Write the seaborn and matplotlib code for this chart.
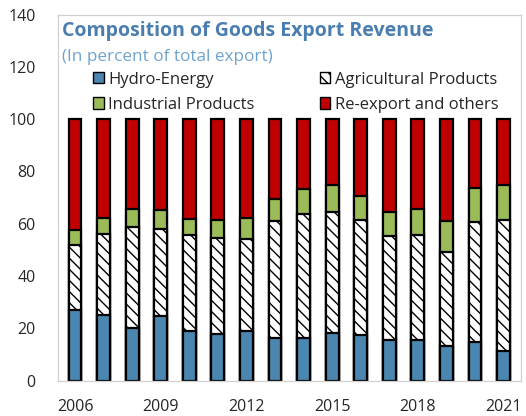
"""
Composition of goods export revenue - stacked bars, 2006-2021.
"""

import numpy as np
import pandas as pd
import matplotlib
matplotlib.use("Agg")
import matplotlib.pyplot as plt
from matplotlib.patches import Patch
import seaborn as sns

sns.set_style("white")
plt.rcParams["font.family"] = ["Open Sans", "DejaVu Sans"]
plt.rcParams["hatch.linewidth"] = 1.0

years = [str(y) for y in range(2006, 2022)]
hydro = [27.2, 25.0, 20.0, 24.6, 18.8, 18.0, 18.8, 16.2,
         16.2, 18.4, 17.5, 15.4, 15.4, 13.3, 14.9, 11.2]
agri = [24.6, 31.1, 38.6, 33.3, 36.9, 36.4, 35.2, 44.8,
        47.4, 46.0, 44.0, 39.9, 40.3, 36.0, 45.8, 50.3]
industrial = [5.8, 6.2, 7.2, 7.4, 6.2, 7.0, 8.2, 8.3,
              9.6, 10.4, 9.1, 9.1, 9.9, 11.7, 12.9, 13.3]
reexport = [100 - h - a - i for h, a, i in zip(hydro, agri, industrial)]

df = pd.DataFrame({"year": years, "hydro": hydro, "agri": agri,
                   "industrial": industrial, "reexport": reexport})
# cumulative tops, drawn back to front so each layer covers the one above
df["top_hydro"] = df["hydro"]
df["top_agri"] = df["top_hydro"] + df["agri"]
df["top_ind"] = df["top_agri"] + df["industrial"]
df["top_re"] = df["top_ind"] + df["reexport"]

c_hydro = "#4A86AF"
c_ind = "#9BBB59"
c_re = "#C00000"
hatch = "\\\\\\"

fig, ax = plt.subplots(figsize=(5.26, 4.16), dpi=100)
bw = 0.45
kw = dict(width=bw, edgecolor="black", linewidth=1.6, ax=ax, order=years)
sns.barplot(data=df, x="year", y="top_re", color=c_re, saturation=1, **kw)
sns.barplot(data=df, x="year", y="top_ind", color=c_ind, saturation=1, **kw)
sns.barplot(data=df, x="year", y="top_agri", color="white", saturation=1,
            hatch=hatch, **kw)
sns.barplot(data=df, x="year", y="top_hydro", color=c_hydro, saturation=1, **kw)

ax.set_ylim(0, 140)
ax.set_yticks(np.arange(0, 141, 20))
ax.set_xlim(-0.6, len(years) - 0.4)
ax.set_xticks(range(0, len(years), 3))
ax.set_xticklabels(years[::3])
ax.set_xticks(np.arange(0.5, len(years) - 1, 1), minor=True)
ax.tick_params(axis="x", which="major", length=0, pad=13, labelsize=11.5)
ax.tick_params(axis="x", which="minor", length=4, direction="in",
               color="#BFBFBF", width=0.8)
ax.tick_params(axis="y", which="major", length=4, direction="out",
               color="#BFBFBF", width=0.8, labelsize=11.5, pad=12)
ax.set_xlabel("")
ax.set_ylabel("")
for s in ax.spines.values():
    s.set_color("#D0D0D0")
    s.set_linewidth(0.9)

ax.text(0.008, 0.955, "Composition of Goods Export Revenue", transform=ax.transAxes,
        fontsize=14, fontweight="bold", color="#4A7EB0", va="center")
ax.text(0.008, 0.885, "(In percent of total export)", transform=ax.transAxes,
        fontsize=12.3, color="#6FA3CF", va="center")

handles = [Patch(facecolor=c_hydro, edgecolor="black", label="Hydro-Energy"),
           Patch(facecolor=c_ind, edgecolor="black", label="Industrial Products"),
           Patch(facecolor="white", edgecolor="black", hatch=hatch,
                 label="Agricultural Products"),
           Patch(facecolor=c_re, edgecolor="black", label="Re-export and others")]
ax.legend(handles=handles, ncol=2, frameon=False, loc="upper left",
          bbox_to_anchor=(0.062, 0.862), fontsize=12, handlelength=0.65,
          handleheight=0.65, handletextpad=0.25, columnspacing=3.9,
          labelspacing=0.55, borderaxespad=0)

fig.subplots_adjust(left=0.11, right=0.99, bottom=0.085, top=0.965)
plt.savefig("out.png", dpi=100)
